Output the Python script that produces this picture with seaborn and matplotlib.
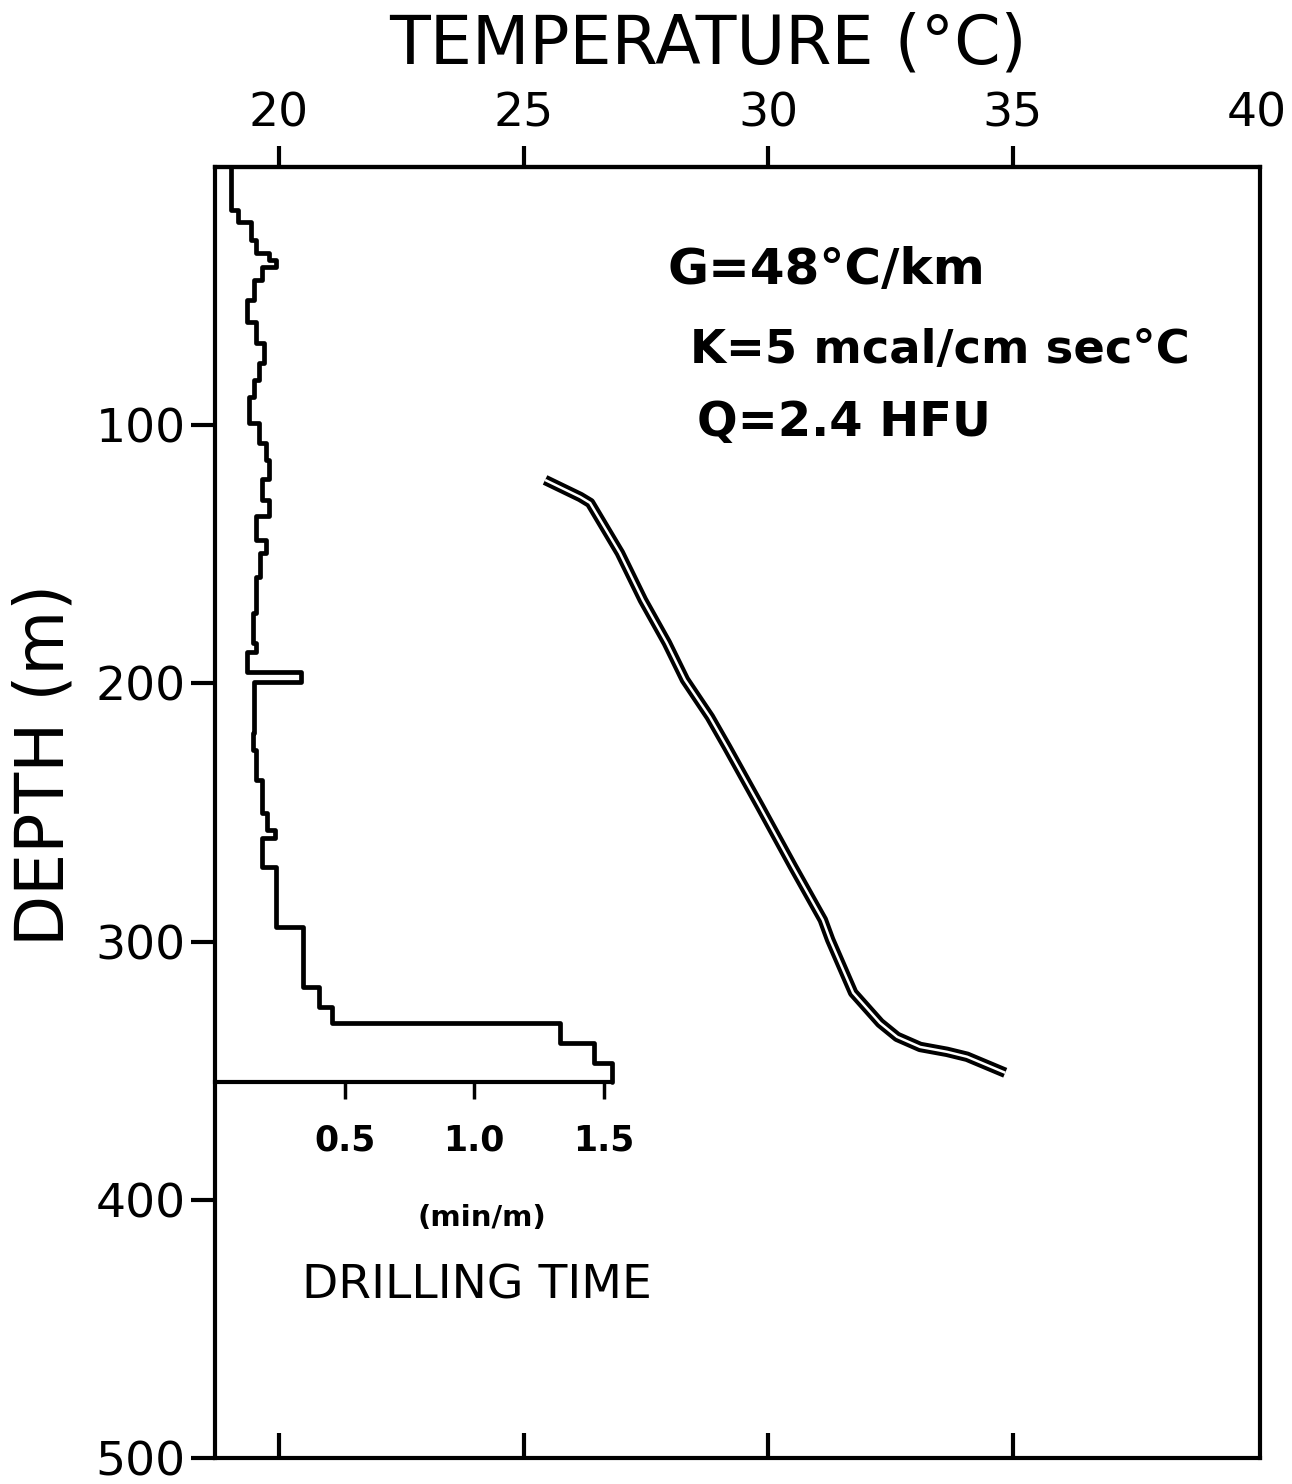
import numpy as np
import pandas as pd
import matplotlib
matplotlib.use("Agg")
import matplotlib.pyplot as plt
import seaborn as sns

# ---------------- data ----------------
# Temperature profile (deg C) vs depth (m)
temp_c = [25.44, 26.16, 26.36, 26.97, 27.44, 27.93, 28.30, 28.81, 29.16, 29.84,
          30.51, 31.12, 31.27, 31.74, 32.29, 32.64, 33.11, 33.66, 34.07, 34.85]
temp_depth = [121.2, 127.8, 130.1, 149.5, 167.7, 184.3, 198.6, 213.0, 224.6, 247.8,
              271.0, 291.6, 299.3, 319.8, 331.5, 336.9, 340.8, 342.7, 344.6, 350.8]

# Drilling time (min/m): step function, depth interval edges and values
drill_edges = [0.0, 16.6, 21.3, 28.3, 33.3, 36.0, 38.7, 43.8, 51.5, 60.0, 68.0,
               76.0, 82.5, 89.0, 99.0, 107.0, 113.5, 121.0, 129.0, 135.0, 144.5,
               149.5, 158.8, 172.7, 184.3, 187.8, 195.5, 199.4, 219.2, 225.7, 237.4,
               250.1, 256.7, 259.8, 271.0, 294.3, 317.5, 325.3, 331.5, 339.2, 347.0,
               354.3]
drill_time = [0.06, 0.09, 0.14, 0.16, 0.21, 0.235, 0.18, 0.15, 0.125, 0.16,
              0.19, 0.17, 0.15, 0.13, 0.17, 0.195, 0.21, 0.18, 0.21, 0.16,
              0.195, 0.175, 0.16, 0.145, 0.16, 0.125, 0.33, 0.15, 0.145, 0.16,
              0.18, 0.20, 0.23, 0.18, 0.235, 0.34, 0.40, 0.45, 1.33, 1.46,
              1.53]

temp_ticks = [20, 25, 30, 35, 40]
depth_ticks = [100, 200, 300, 400, 500]
drill_ticks = [0.5, 1.0, 1.5]
drill_ticklabels = ["0.5", "1.0", "1.5"]
annotations = ["G=48°C/km", "K=5 mcal/cm sec°C", "Q=2.4 HFU"]

# ---------------- style ----------------
sns.set_style("white")
plt.rcParams["font.family"] = ["DejaVu Sans"]
plt.rcParams["text.color"] = "black"
plt.rcParams["xtick.color"] = "black"
plt.rcParams["ytick.color"] = "black"
plt.rcParams["axes.labelcolor"] = "black"
plt.rcParams["axes.edgecolor"] = "black"

W, H = 1292, 1484
fig = plt.figure(figsize=(W / 100, H / 100), dpi=100)
rect = [215 / W, 1 - 1458 / H, (1260 - 215) / W, (1458 - 167) / H]
ax = fig.add_axes(rect)
ax.set_facecolor("white")

lw_spine = 3.0
for s in ax.spines.values():
    s.set_linewidth(lw_spine)
    s.set_color("black")

# Temperature curve: hollow (double) line
df_t = pd.DataFrame({"T": temp_c, "D": temp_depth})
sns.lineplot(data=df_t, x="T", y="D", sort=False, estimator=None, ax=ax,
             color="black", linewidth=7.5, solid_capstyle="butt", solid_joinstyle="round")
sns.lineplot(data=df_t, x="T", y="D", sort=False, estimator=None, ax=ax,
             color="white", linewidth=1.8, solid_capstyle="butt", solid_joinstyle="round")

ax.set_xlim(18.69, 40.06)
ax.set_ylim(500, 0)
ax.set_xlabel("")
ax.set_ylabel("")

# bottom: inward ticks, no labels
ax.set_xticks(temp_ticks[:-1])
ax.tick_params(axis="x", direction="in", length=18, width=3,
               top=False, bottom=True, labeltop=False, labelbottom=False)

# top axis: temperature labels, outward ticks
sec = ax.secondary_xaxis("top")
sec.set_xticks(temp_ticks)
sec.set_xticklabels([str(t) for t in temp_ticks])
sec.tick_params(direction="out", length=15, width=3, labelsize=34, pad=7,
                colors="black")
sec.spines["top"].set_linewidth(lw_spine)
sec.xaxis.get_major_ticks()[-1].tick2line.set_visible(False)
sec.xaxis.get_major_ticks()[-1].tick1line.set_visible(False)

# left axis: depth
ax.set_yticks(depth_ticks)
ax.set_yticklabels([str(d) for d in depth_ticks])
ax.tick_params(axis="y", direction="out", length=17, width=3, labelsize=34, pad=4,
               left=True, right=False)

# ---------------- drilling time inset axis ----------------
ax2 = fig.add_axes(rect)
ax2.patch.set_alpha(0)
ax2.set_xlim(0, 4.03)
ax2.set_ylim(500, 0)
for name in ["top", "right", "left"]:
    ax2.spines[name].set_visible(False)
ax2.spines["bottom"].set_position(("data", drill_edges[-1]))
ax2.spines["bottom"].set_bounds(0, drill_time[-1])
ax2.spines["bottom"].set_linewidth(lw_spine)

xs = np.repeat(drill_time, 2)
ys = np.column_stack([drill_edges[:-1], drill_edges[1:]]).ravel()
df_d = pd.DataFrame({"x": xs, "y": ys})
sns.lineplot(data=df_d, x="x", y="y", sort=False, estimator=None, ax=ax2,
             color="black", linewidth=3.4, solid_joinstyle="round")
ax2.set_xlabel("")
ax2.set_ylabel("")
ax2.set_yticks([])
ax2.set_xticks(drill_ticks)
ax2.set_xticklabels(drill_ticklabels)
ax2.tick_params(axis="x", direction="out", length=12, width=2.5, labelsize=25, pad=18,
                bottom=True, top=False)
for lab in ax2.get_xticklabels():
    lab.set_fontweight("bold")

ax2.text(1.03, 407, "(min/m)", ha="center", va="center", fontsize=21, fontweight="bold")
ax2.text(1.01, 433.5, "DRILLING TIME", ha="center", va="center", fontsize=34)

# ---------------- texts ----------------
fig.text(708 / W, 1 - 44 / H, "TEMPERATURE (°C)", ha="center", va="center", fontsize=48)
fig.text(45 / W, 1 - 765 / H, "DEPTH (m)", ha="center", va="center", rotation=90,
         fontsize=48)

ax.text(27.95, 39.9, annotations[0], ha="left", va="center", fontsize=36, fontweight="bold")
ax.text(28.4, 70.9, annotations[1], ha="left", va="center", fontsize=33.5, fontweight="bold")
ax.text(28.55, 99.1, annotations[2], ha="left", va="center", fontsize=34.5, fontweight="bold")

fig.savefig("out.png", dpi=100, facecolor="white")
